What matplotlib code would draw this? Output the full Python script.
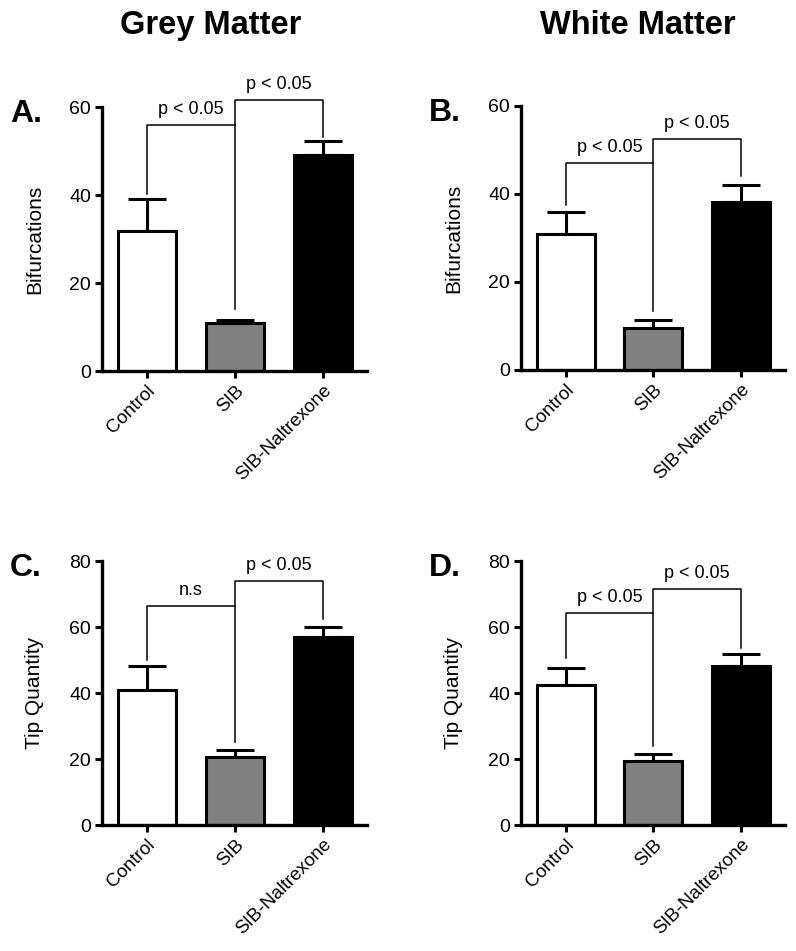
import matplotlib
matplotlib.use("Agg")
import matplotlib.pyplot as plt
import numpy as np

plt.rcParams['font.family'] = ['Liberation Sans', 'DejaVu Sans']

groups = ['Control', 'SIB', 'SIB-Naltrexone']
bar_colors = ['white', '#808080', 'black']

# means and upper SEM
bif_grey_mean = [31.8, 10.8, 49.0]
bif_grey_err = [7.2, 0.9, 3.2]
bif_white_mean = [31.0, 9.5, 38.1]
bif_white_err = [5.0, 1.9, 3.9]
tip_grey_mean = [40.9, 20.5, 57.1]
tip_grey_err = [7.3, 2.2, 2.8]
tip_white_mean = [42.4, 19.4, 48.2]
tip_white_err = [5.3, 2.0, 3.5]

# bracket heights: control leg end, bracket 1, SIB leg end, bracket 2, naltrexone leg end
brk_bif_grey = [40.3, 55.9, 14.0, 61.5, 53.2]
brk_bif_white = [37.5, 47.0, 13.4, 52.4, 44.0]
brk_tip_grey = [50.0, 66.5, 25.3, 73.9, 62.4]
brk_tip_white = [50.5, 64.3, 23.9, 71.5, 53.6]

sig_bif_grey = ['p < 0.05', 'p < 0.05']
sig_bif_white = ['p < 0.05', 'p < 0.05']
sig_tip_grey = ['n.s', 'p < 0.05']
sig_tip_white = ['p < 0.05', 'p < 0.05']

W, H = 796, 951
fig = plt.figure(figsize=(W / 100, H / 100), dpi=100)


def panel(px_left, px_bottom, px_w, px_h, means, errs, brk, sig, ymax, ylabel, letter):
    ax = fig.add_axes([px_left / W, (H - px_bottom) / H, px_w / W, px_h / H])
    x = np.arange(len(groups))
    ax.errorbar(x, means, yerr=[np.zeros(len(errs)), errs], fmt='none',
                ecolor='black', elinewidth=2.2, capsize=14, capthick=2.2, zorder=1)
    ax.bar(x, means, width=0.66, color=bar_colors, edgecolor='black',
           linewidth=2.2, zorder=2)
    ax.set_xlim(-0.51, 2.5)
    ax.set_ylim(0, ymax)
    ax.set_yticks(np.arange(0, ymax + 1, 20))
    ax.set_xticks(x)
    ax.set_xticklabels(groups, rotation=45, ha='right', va='top',
                       rotation_mode='anchor', fontsize=13.5)
    ax.tick_params(axis='both', width=2.2, length=5, pad=3)
    ax.tick_params(axis='y', labelsize=14)
    for s in ['top', 'right']:
        ax.spines[s].set_visible(False)
    for s in ['left', 'bottom']:
        ax.spines[s].set_linewidth(2.4)
    ax.set_ylabel(ylabel, fontsize=15, labelpad=18)

    c_end, h1, s_end, h2, n_end = brk
    ax.plot([0, 0, 1, 1], [c_end, h1, h1, s_end], color='black', lw=1.1,
            clip_on=False, zorder=3)
    ax.plot([1, 1, 2, 2], [h1, h2, h2, n_end], color='black', lw=1.1,
            clip_on=False, zorder=3)
    ax.annotate(sig[0], (0.5, h1), xytext=(0, 5), textcoords='offset points',
                ha='center', va='bottom', fontsize=13, annotation_clip=False)
    ax.annotate(sig[1], (1.5, h2), xytext=(0, 5), textcoords='offset points',
                ha='center', va='bottom', fontsize=13, annotation_clip=False)

    fig.text((px_left - 92) / W, 1 - (px_bottom - px_h + 15) / H, letter,
             fontsize=23, fontweight='bold', ha='left', va='baseline')
    return ax


panel(102, 371, 265, 264, bif_grey_mean, bif_grey_err, brk_bif_grey, sig_bif_grey,
      60, 'Bifurcations', 'A.')
panel(521, 370, 264, 264, bif_white_mean, bif_white_err, brk_bif_white, sig_bif_white,
      60, 'Bifurcations', 'B.')
panel(102, 825, 265, 264, tip_grey_mean, tip_grey_err, brk_tip_grey, sig_tip_grey,
      80, 'Tip Quantity', 'C.')
panel(521, 825, 264, 264, tip_white_mean, tip_white_err, brk_tip_white, sig_tip_white,
      80, 'Tip Quantity', 'D.')

fig.text(211 / W, 1 - 34 / H, 'Grey Matter', fontsize=23.5, fontweight='bold',
         ha='center', va='baseline')
fig.text(638 / W, 1 - 34 / H, 'White Matter', fontsize=23.5, fontweight='bold',
         ha='center', va='baseline')

fig.savefig('out.png', dpi=100)
